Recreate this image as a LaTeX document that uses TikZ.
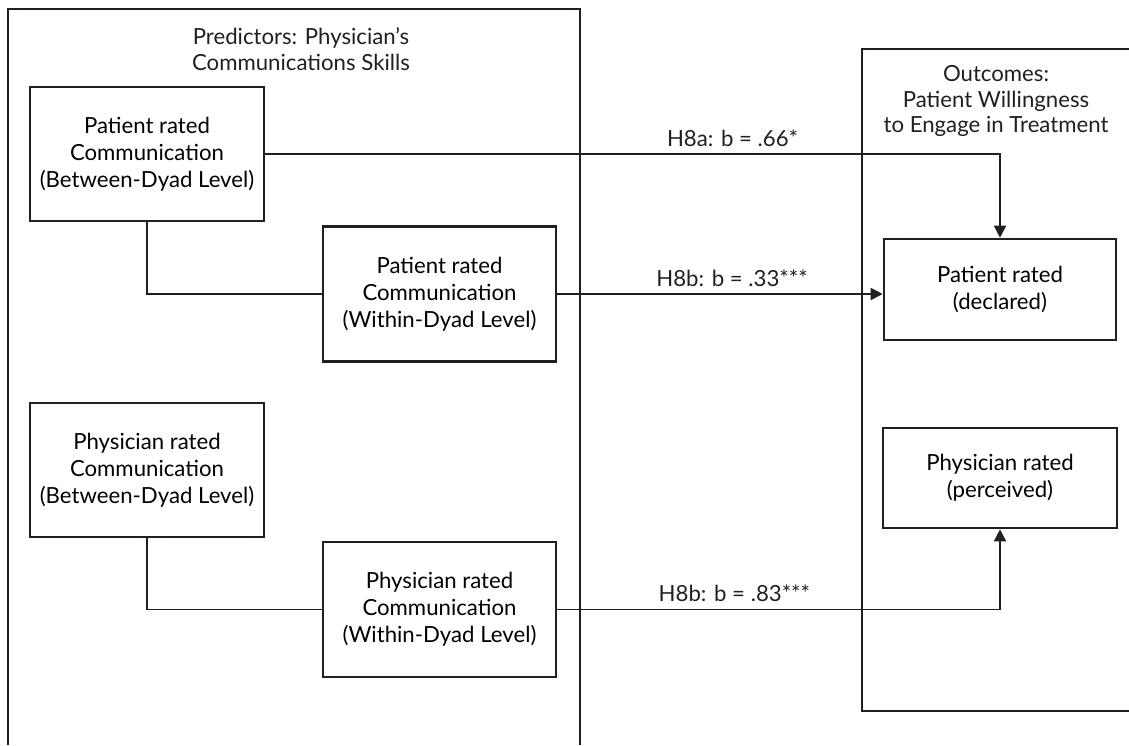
\documentclass[tikz,border=0pt]{standalone}
\usepackage{fontspec}
\setmainfont{Lato}
\usepackage{xcolor}
\usepackage{tikz}
\usetikzlibrary{arrows.meta}
\definecolor{ink}{HTML}{231F20}
\tikzset{
  panel/.style={draw=ink, line width=0.9pt},
  box/.style={draw=ink, line width=1.3pt, align=center, inner sep=0pt, font=\fontsize{11.1}{13.4}\selectfont},
  link/.style={draw=ink, line width=0.8pt},
  arr/.style={link, -{Triangle[length=6pt,width=6pt]}},
  lab/.style={text=ink, font=\fontsize{11.1}{13}\selectfont},
  ttl/.style={lab, align=center, font=\fontsize{11.1}{12.6}\selectfont},
}

\begin{document}
\begin{tikzpicture}[x=0.5pt,y=-0.5pt]
  \useasboundingbox (0,0) rectangle (1129,745);

  % panels
  \draw[panel] (8,745) |- (580,9) -- (580,745);
  \draw[panel] (1129,49) -| (862,711) -- (1129,711);
  \node[ttl] (predTitle) at (301,49) {Predictors: Physician's\\Communications Skills};
  \node[ttl] (outTitle) at (996,101) {Outcomes:\\Patient Willingness\\to Engage in Treatment};

  % predictors
  \node[box, minimum width=117pt, minimum height=67pt] (patBtw) at (147,154)
    {Patient rated\\Communication\\(Between-Dyad Level)};
  \node[box, minimum width=116.5pt, minimum height=67.5pt] (patWth) at (439.5,294)
    {Patient rated\\Communication\\(Within-Dyad Level)};
  \node[box, minimum width=117pt, minimum height=67pt] (phyBtw) at (147,470)
    {Physician rated\\Communication\\(Between-Dyad Level)};
  \node[box, minimum width=116.5pt, minimum height=67.5pt] (phyWth) at (439.5,609.5)
    {Physician rated\\Communication\\(Within-Dyad Level)};

  % outcomes
  \node[box, minimum width=116pt, minimum height=50.5pt] (patOut) at (1000,289.5)
    {Patient rated\\(declared)};
  \node[box, minimum width=117pt, minimum height=50pt] (phyOut) at (1000,478)
    {Physician rated\\(perceived)};

  % links
  \draw[link] (patBtw.south) |- (patWth.west);
  \draw[link] (phyBtw.south) |- (phyWth.west);
  \draw[arr] (patBtw.east) -| (patOut.north) node[lab, pos=0.318, above] {H8a: b = .66*};
  \draw[arr] (patWth.east) -- (patWth.east -| patOut.west) node[lab, pos=0.537, above] {H8b: b = .33***};
  \draw[arr] (phyWth.east) -| (phyOut.south) node[lab, pos=0.2, above] {H8b: b = .83***};
\end{tikzpicture}
\end{document}
